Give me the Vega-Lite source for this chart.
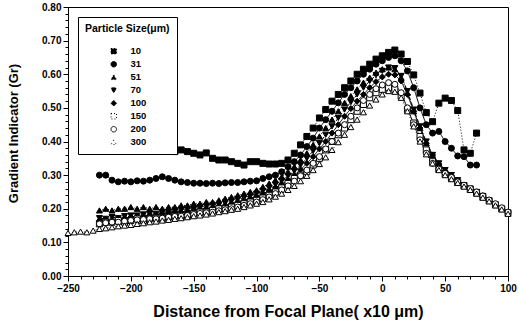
{
  "$schema": "https://vega.github.io/schema/vega-lite/v6.json",
  "width": 440,
  "height": 269,
  "autosize": {"type": "none"},
  "padding": {"left": 68, "top": 7, "right": 11, "bottom": 55},
  "background": "white",
  "data": {"values": [
{"s":"10","x":-165,"y":0.37},{"s":"10","x":-160,"y":0.375},{"s":"10","x":-155,"y":0.37},{"s":"10","x":-150,"y":0.365},{"s":"10","x":-145,"y":0.36},{"s":"10","x":-140,"y":0.366},{"s":"10","x":-135,"y":0.35},{"s":"10","x":-130,"y":0.345},{"s":"10","x":-125,"y":0.345},{"s":"10","x":-120,"y":0.34},{"s":"10","x":-115,"y":0.335},{"s":"10","x":-110,"y":0.33},{"s":"10","x":-105,"y":0.34},{"s":"10","x":-100,"y":0.34},{"s":"10","x":-95,"y":0.335},{"s":"10","x":-90,"y":0.333},{"s":"10","x":-85,"y":0.333},{"s":"10","x":-80,"y":0.335},{"s":"10","x":-75,"y":0.345},{"s":"10","x":-70,"y":0.365},{"s":"10","x":-65,"y":0.39},{"s":"10","x":-60,"y":0.415},{"s":"10","x":-55,"y":0.44},{"s":"10","x":-50,"y":0.47},{"s":"10","x":-45,"y":0.495},{"s":"10","x":-40,"y":0.52},{"s":"10","x":-35,"y":0.54},{"s":"10","x":-30,"y":0.56},{"s":"10","x":-25,"y":0.58},{"s":"10","x":-20,"y":0.6},{"s":"10","x":-15,"y":0.615},{"s":"10","x":-10,"y":0.63},{"s":"10","x":-5,"y":0.645},{"s":"10","x":0,"y":0.655},{"s":"10","x":5,"y":0.665},{"s":"10","x":10,"y":0.672},{"s":"10","x":15,"y":0.66},{"s":"10","x":20,"y":0.638},{"s":"10","x":25,"y":0.598},{"s":"10","x":30,"y":0.544},{"s":"10","x":35,"y":0.486},{"s":"10","x":40,"y":0.459},{"s":"10","x":45,"y":0.514},{"s":"10","x":50,"y":0.529},{"s":"10","x":55,"y":0.522},{"s":"10","x":60,"y":0.492},{"s":"10","x":65,"y":0.375},{"s":"10","x":70,"y":0.365},{"s":"10","x":75,"y":0.425},
{"s":"31","x":-225,"y":0.3},{"s":"31","x":-220,"y":0.3},{"s":"31","x":-215,"y":0.285},{"s":"31","x":-210,"y":0.28},{"s":"31","x":-205,"y":0.282},{"s":"31","x":-200,"y":0.28},{"s":"31","x":-195,"y":0.283},{"s":"31","x":-190,"y":0.282},{"s":"31","x":-185,"y":0.285},{"s":"31","x":-180,"y":0.29},{"s":"31","x":-175,"y":0.295},{"s":"31","x":-170,"y":0.29},{"s":"31","x":-165,"y":0.285},{"s":"31","x":-160,"y":0.28},{"s":"31","x":-155,"y":0.278},{"s":"31","x":-150,"y":0.276},{"s":"31","x":-145,"y":0.276},{"s":"31","x":-140,"y":0.275},{"s":"31","x":-135,"y":0.276},{"s":"31","x":-130,"y":0.275},{"s":"31","x":-125,"y":0.277},{"s":"31","x":-120,"y":0.278},{"s":"31","x":-115,"y":0.278},{"s":"31","x":-110,"y":0.28},{"s":"31","x":-105,"y":0.282},{"s":"31","x":-100,"y":0.283},{"s":"31","x":-95,"y":0.29},{"s":"31","x":-90,"y":0.295},{"s":"31","x":-85,"y":0.3},{"s":"31","x":-80,"y":0.31},{"s":"31","x":-75,"y":0.325},{"s":"31","x":-70,"y":0.34},{"s":"31","x":-65,"y":0.36},{"s":"31","x":-60,"y":0.385},{"s":"31","x":-55,"y":0.41},{"s":"31","x":-50,"y":0.44},{"s":"31","x":-45,"y":0.465},{"s":"31","x":-40,"y":0.49},{"s":"31","x":-35,"y":0.515},{"s":"31","x":-30,"y":0.54},{"s":"31","x":-25,"y":0.56},{"s":"31","x":-20,"y":0.58},{"s":"31","x":-15,"y":0.6},{"s":"31","x":-10,"y":0.615},{"s":"31","x":-5,"y":0.63},{"s":"31","x":0,"y":0.64},{"s":"31","x":5,"y":0.65},{"s":"31","x":10,"y":0.655},{"s":"31","x":15,"y":0.64},{"s":"31","x":20,"y":0.61},{"s":"31","x":25,"y":0.56},{"s":"31","x":30,"y":0.5},{"s":"31","x":35,"y":0.45},{"s":"31","x":40,"y":0.425},{"s":"31","x":45,"y":0.43},{"s":"31","x":50,"y":0.4},{"s":"31","x":55,"y":0.38},{"s":"31","x":60,"y":0.357},{"s":"31","x":65,"y":0.355},{"s":"31","x":70,"y":0.33},{"s":"31","x":75,"y":0.33},
{"s":"51","x":-225,"y":0.195},{"s":"51","x":-220,"y":0.2},{"s":"51","x":-215,"y":0.195},{"s":"51","x":-210,"y":0.2},{"s":"51","x":-205,"y":0.2},{"s":"51","x":-200,"y":0.205},{"s":"51","x":-195,"y":0.2},{"s":"51","x":-190,"y":0.205},{"s":"51","x":-185,"y":0.2},{"s":"51","x":-180,"y":0.205},{"s":"51","x":-175,"y":0.2},{"s":"51","x":-170,"y":0.205},{"s":"51","x":-165,"y":0.205},{"s":"51","x":-160,"y":0.21},{"s":"51","x":-155,"y":0.21},{"s":"51","x":-150,"y":0.215},{"s":"51","x":-145,"y":0.215},{"s":"51","x":-140,"y":0.22},{"s":"51","x":-135,"y":0.22},{"s":"51","x":-130,"y":0.225},{"s":"51","x":-125,"y":0.23},{"s":"51","x":-120,"y":0.235},{"s":"51","x":-115,"y":0.24},{"s":"51","x":-110,"y":0.245},{"s":"51","x":-105,"y":0.25},{"s":"51","x":-100,"y":0.255},{"s":"51","x":-95,"y":0.265},{"s":"51","x":-90,"y":0.275},{"s":"51","x":-85,"y":0.285},{"s":"51","x":-80,"y":0.295},{"s":"51","x":-75,"y":0.31},{"s":"51","x":-70,"y":0.325},{"s":"51","x":-65,"y":0.345},{"s":"51","x":-60,"y":0.365},{"s":"51","x":-55,"y":0.39},{"s":"51","x":-50,"y":0.415},{"s":"51","x":-45,"y":0.44},{"s":"51","x":-40,"y":0.465},{"s":"51","x":-35,"y":0.49},{"s":"51","x":-30,"y":0.515},{"s":"51","x":-25,"y":0.535},{"s":"51","x":-20,"y":0.555},{"s":"51","x":-15,"y":0.575},{"s":"51","x":-10,"y":0.59},{"s":"51","x":-5,"y":0.605},{"s":"51","x":0,"y":0.615},{"s":"51","x":5,"y":0.62},{"s":"51","x":10,"y":0.615},{"s":"51","x":15,"y":0.59},{"s":"51","x":20,"y":0.545},{"s":"51","x":25,"y":0.49},{"s":"51","x":30,"y":0.44},{"s":"51","x":35,"y":0.395},{"s":"51","x":40,"y":0.36},{"s":"51","x":45,"y":0.335},{"s":"51","x":50,"y":0.315},{"s":"51","x":55,"y":0.298},{"s":"51","x":60,"y":0.283},{"s":"51","x":65,"y":0.27},{"s":"51","x":70,"y":0.26},{"s":"51","x":75,"y":0.25},{"s":"51","x":80,"y":0.24},
{"s":"70","x":-225,"y":0.172},{"s":"70","x":-220,"y":0.17},{"s":"70","x":-215,"y":0.175},{"s":"70","x":-210,"y":0.172},{"s":"70","x":-205,"y":0.178},{"s":"70","x":-200,"y":0.18},{"s":"70","x":-195,"y":0.18},{"s":"70","x":-190,"y":0.183},{"s":"70","x":-185,"y":0.185},{"s":"70","x":-180,"y":0.185},{"s":"70","x":-175,"y":0.19},{"s":"70","x":-170,"y":0.19},{"s":"70","x":-165,"y":0.195},{"s":"70","x":-160,"y":0.197},{"s":"70","x":-155,"y":0.2},{"s":"70","x":-150,"y":0.2},{"s":"70","x":-145,"y":0.205},{"s":"70","x":-140,"y":0.207},{"s":"70","x":-135,"y":0.21},{"s":"70","x":-130,"y":0.212},{"s":"70","x":-125,"y":0.218},{"s":"70","x":-120,"y":0.222},{"s":"70","x":-115,"y":0.228},{"s":"70","x":-110,"y":0.233},{"s":"70","x":-105,"y":0.238},{"s":"70","x":-100,"y":0.245},{"s":"70","x":-95,"y":0.253},{"s":"70","x":-90,"y":0.262},{"s":"70","x":-85,"y":0.272},{"s":"70","x":-80,"y":0.283},{"s":"70","x":-75,"y":0.297},{"s":"70","x":-70,"y":0.312},{"s":"70","x":-65,"y":0.33},{"s":"70","x":-60,"y":0.35},{"s":"70","x":-55,"y":0.372},{"s":"70","x":-50,"y":0.395},{"s":"70","x":-45,"y":0.42},{"s":"70","x":-40,"y":0.445},{"s":"70","x":-35,"y":0.47},{"s":"70","x":-30,"y":0.495},{"s":"70","x":-25,"y":0.517},{"s":"70","x":-20,"y":0.54},{"s":"70","x":-15,"y":0.56},{"s":"70","x":-10,"y":0.58},{"s":"70","x":-5,"y":0.597},{"s":"70","x":0,"y":0.61},{"s":"70","x":5,"y":0.62},{"s":"70","x":10,"y":0.618},{"s":"70","x":15,"y":0.595},{"s":"70","x":20,"y":0.55},{"s":"70","x":25,"y":0.495},{"s":"70","x":30,"y":0.445},{"s":"70","x":35,"y":0.4},{"s":"70","x":40,"y":0.36},{"s":"70","x":45,"y":0.335},{"s":"70","x":50,"y":0.315},{"s":"70","x":55,"y":0.3},{"s":"70","x":60,"y":0.285},{"s":"70","x":65,"y":0.27},{"s":"70","x":70,"y":0.26},{"s":"70","x":75,"y":0.25},{"s":"70","x":80,"y":0.238},
{"s":"100","x":-225,"y":0.165},{"s":"100","x":-220,"y":0.168},{"s":"100","x":-215,"y":0.165},{"s":"100","x":-210,"y":0.17},{"s":"100","x":-205,"y":0.172},{"s":"100","x":-200,"y":0.175},{"s":"100","x":-195,"y":0.177},{"s":"100","x":-190,"y":0.178},{"s":"100","x":-185,"y":0.18},{"s":"100","x":-180,"y":0.182},{"s":"100","x":-175,"y":0.185},{"s":"100","x":-170,"y":0.187},{"s":"100","x":-165,"y":0.19},{"s":"100","x":-160,"y":0.19},{"s":"100","x":-155,"y":0.193},{"s":"100","x":-150,"y":0.195},{"s":"100","x":-145,"y":0.198},{"s":"100","x":-140,"y":0.2},{"s":"100","x":-135,"y":0.203},{"s":"100","x":-130,"y":0.207},{"s":"100","x":-125,"y":0.21},{"s":"100","x":-120,"y":0.215},{"s":"100","x":-115,"y":0.22},{"s":"100","x":-110,"y":0.225},{"s":"100","x":-105,"y":0.23},{"s":"100","x":-100,"y":0.237},{"s":"100","x":-95,"y":0.245},{"s":"100","x":-90,"y":0.253},{"s":"100","x":-85,"y":0.263},{"s":"100","x":-80,"y":0.273},{"s":"100","x":-75,"y":0.285},{"s":"100","x":-70,"y":0.3},{"s":"100","x":-65,"y":0.316},{"s":"100","x":-60,"y":0.335},{"s":"100","x":-55,"y":0.355},{"s":"100","x":-50,"y":0.378},{"s":"100","x":-45,"y":0.4},{"s":"100","x":-40,"y":0.425},{"s":"100","x":-35,"y":0.45},{"s":"100","x":-30,"y":0.475},{"s":"100","x":-25,"y":0.498},{"s":"100","x":-20,"y":0.52},{"s":"100","x":-15,"y":0.54},{"s":"100","x":-10,"y":0.56},{"s":"100","x":-5,"y":0.578},{"s":"100","x":0,"y":0.592},{"s":"100","x":5,"y":0.6},{"s":"100","x":10,"y":0.598},{"s":"100","x":15,"y":0.58},{"s":"100","x":20,"y":0.54},{"s":"100","x":25,"y":0.49},{"s":"100","x":30,"y":0.44},{"s":"100","x":35,"y":0.395},{"s":"100","x":40,"y":0.36},{"s":"100","x":45,"y":0.333},{"s":"100","x":50,"y":0.312},{"s":"100","x":55,"y":0.297},{"s":"100","x":60,"y":0.283},{"s":"100","x":65,"y":0.27},{"s":"100","x":70,"y":0.258},{"s":"100","x":75,"y":0.247},{"s":"100","x":80,"y":0.237},
{"s":"150","x":-225,"y":0.155},{"s":"150","x":-220,"y":0.16},{"s":"150","x":-215,"y":0.16},{"s":"150","x":-210,"y":0.165},{"s":"150","x":-205,"y":0.16},{"s":"150","x":-200,"y":0.165},{"s":"150","x":-195,"y":0.17},{"s":"150","x":-190,"y":0.165},{"s":"150","x":-185,"y":0.17},{"s":"150","x":-180,"y":0.172},{"s":"150","x":-175,"y":0.17},{"s":"150","x":-170,"y":0.175},{"s":"150","x":-165,"y":0.178},{"s":"150","x":-160,"y":0.18},{"s":"150","x":-155,"y":0.18},{"s":"150","x":-150,"y":0.185},{"s":"150","x":-145,"y":0.19},{"s":"150","x":-140,"y":0.19},{"s":"150","x":-135,"y":0.195},{"s":"150","x":-130,"y":0.2},{"s":"150","x":-125,"y":0.2},{"s":"150","x":-120,"y":0.205},{"s":"150","x":-115,"y":0.21},{"s":"150","x":-110,"y":0.215},{"s":"150","x":-105,"y":0.22},{"s":"150","x":-100,"y":0.225},{"s":"150","x":-95,"y":0.232},{"s":"150","x":-90,"y":0.24},{"s":"150","x":-85,"y":0.25},{"s":"150","x":-80,"y":0.262},{"s":"150","x":-75,"y":0.275},{"s":"150","x":-70,"y":0.29},{"s":"150","x":-65,"y":0.3},{"s":"150","x":-60,"y":0.31},{"s":"150","x":-55,"y":0.33},{"s":"150","x":-50,"y":0.35},{"s":"150","x":-45,"y":0.375},{"s":"150","x":-40,"y":0.4},{"s":"150","x":-35,"y":0.42},{"s":"150","x":-30,"y":0.44},{"s":"150","x":-25,"y":0.465},{"s":"150","x":-20,"y":0.49},{"s":"150","x":-15,"y":0.51},{"s":"150","x":-10,"y":0.53},{"s":"150","x":-5,"y":0.545},{"s":"150","x":0,"y":0.555},{"s":"150","x":5,"y":0.56},{"s":"150","x":10,"y":0.555},{"s":"150","x":15,"y":0.535},{"s":"150","x":20,"y":0.495},{"s":"150","x":25,"y":0.455},{"s":"150","x":30,"y":0.415},{"s":"150","x":35,"y":0.375},{"s":"150","x":40,"y":0.34},{"s":"150","x":45,"y":0.318},{"s":"150","x":50,"y":0.303},{"s":"150","x":55,"y":0.29},{"s":"150","x":60,"y":0.278},{"s":"150","x":65,"y":0.268},{"s":"150","x":70,"y":0.258},{"s":"150","x":75,"y":0.247},{"s":"150","x":80,"y":0.235},{"s":"150","x":85,"y":0.224},{"s":"150","x":90,"y":0.212},{"s":"150","x":95,"y":0.2},{"s":"150","x":100,"y":0.188},
{"s":"200","x":-225,"y":0.155},{"s":"200","x":-220,"y":0.158},{"s":"200","x":-215,"y":0.16},{"s":"200","x":-210,"y":0.16},{"s":"200","x":-205,"y":0.163},{"s":"200","x":-200,"y":0.165},{"s":"200","x":-195,"y":0.167},{"s":"200","x":-190,"y":0.168},{"s":"200","x":-185,"y":0.17},{"s":"200","x":-180,"y":0.17},{"s":"200","x":-175,"y":0.172},{"s":"200","x":-170,"y":0.175},{"s":"200","x":-165,"y":0.177},{"s":"200","x":-160,"y":0.178},{"s":"200","x":-155,"y":0.18},{"s":"200","x":-150,"y":0.183},{"s":"200","x":-145,"y":0.186},{"s":"200","x":-140,"y":0.188},{"s":"200","x":-135,"y":0.19},{"s":"200","x":-130,"y":0.194},{"s":"200","x":-125,"y":0.197},{"s":"200","x":-120,"y":0.2},{"s":"200","x":-115,"y":0.205},{"s":"200","x":-110,"y":0.21},{"s":"200","x":-105,"y":0.215},{"s":"200","x":-100,"y":0.22},{"s":"200","x":-95,"y":0.227},{"s":"200","x":-90,"y":0.235},{"s":"200","x":-85,"y":0.245},{"s":"200","x":-80,"y":0.256},{"s":"200","x":-75,"y":0.268},{"s":"200","x":-70,"y":0.282},{"s":"200","x":-65,"y":0.298},{"s":"200","x":-60,"y":0.315},{"s":"200","x":-55,"y":0.335},{"s":"200","x":-50,"y":0.355},{"s":"200","x":-45,"y":0.378},{"s":"200","x":-40,"y":0.4},{"s":"200","x":-35,"y":0.425},{"s":"200","x":-30,"y":0.45},{"s":"200","x":-25,"y":0.475},{"s":"200","x":-20,"y":0.5},{"s":"200","x":-15,"y":0.522},{"s":"200","x":-10,"y":0.54},{"s":"200","x":-5,"y":0.557},{"s":"200","x":0,"y":0.568},{"s":"200","x":5,"y":0.575},{"s":"200","x":10,"y":0.57},{"s":"200","x":15,"y":0.545},{"s":"200","x":20,"y":0.5},{"s":"200","x":25,"y":0.45},{"s":"200","x":30,"y":0.405},{"s":"200","x":35,"y":0.365},{"s":"200","x":40,"y":0.335},{"s":"200","x":45,"y":0.318},{"s":"200","x":50,"y":0.305},{"s":"200","x":55,"y":0.293},{"s":"200","x":60,"y":0.28},{"s":"200","x":65,"y":0.27},{"s":"200","x":70,"y":0.26},{"s":"200","x":75,"y":0.25},{"s":"200","x":80,"y":0.238},{"s":"200","x":85,"y":0.226},{"s":"200","x":90,"y":0.215},{"s":"200","x":95,"y":0.203},{"s":"200","x":100,"y":0.19},
{"s":"300","x":-250,"y":0.128},{"s":"300","x":-245,"y":0.13},{"s":"300","x":-240,"y":0.132},{"s":"300","x":-235,"y":0.13},{"s":"300","x":-230,"y":0.135},{"s":"300","x":-225,"y":0.14},{"s":"300","x":-220,"y":0.142},{"s":"300","x":-215,"y":0.145},{"s":"300","x":-210,"y":0.148},{"s":"300","x":-205,"y":0.15},{"s":"300","x":-200,"y":0.152},{"s":"300","x":-195,"y":0.155},{"s":"300","x":-190,"y":0.157},{"s":"300","x":-185,"y":0.16},{"s":"300","x":-180,"y":0.162},{"s":"300","x":-175,"y":0.165},{"s":"300","x":-170,"y":0.167},{"s":"300","x":-165,"y":0.17},{"s":"300","x":-160,"y":0.172},{"s":"300","x":-155,"y":0.175},{"s":"300","x":-150,"y":0.178},{"s":"300","x":-145,"y":0.18},{"s":"300","x":-140,"y":0.183},{"s":"300","x":-135,"y":0.186},{"s":"300","x":-130,"y":0.19},{"s":"300","x":-125,"y":0.193},{"s":"300","x":-120,"y":0.197},{"s":"300","x":-115,"y":0.2},{"s":"300","x":-110,"y":0.205},{"s":"300","x":-105,"y":0.21},{"s":"300","x":-100,"y":0.215},{"s":"300","x":-95,"y":0.22},{"s":"300","x":-90,"y":0.228},{"s":"300","x":-85,"y":0.236},{"s":"300","x":-80,"y":0.245},{"s":"300","x":-75,"y":0.256},{"s":"300","x":-70,"y":0.268},{"s":"300","x":-65,"y":0.282},{"s":"300","x":-60,"y":0.298},{"s":"300","x":-55,"y":0.315},{"s":"300","x":-50,"y":0.333},{"s":"300","x":-45,"y":0.353},{"s":"300","x":-40,"y":0.375},{"s":"300","x":-35,"y":0.398},{"s":"300","x":-30,"y":0.42},{"s":"300","x":-25,"y":0.443},{"s":"300","x":-20,"y":0.465},{"s":"300","x":-15,"y":0.487},{"s":"300","x":-10,"y":0.507},{"s":"300","x":-5,"y":0.525},{"s":"300","x":0,"y":0.54},{"s":"300","x":5,"y":0.55},{"s":"300","x":10,"y":0.548},{"s":"300","x":15,"y":0.53},{"s":"300","x":20,"y":0.49},{"s":"300","x":25,"y":0.445},{"s":"300","x":30,"y":0.4},{"s":"300","x":35,"y":0.362},{"s":"300","x":40,"y":0.335},{"s":"300","x":45,"y":0.315},{"s":"300","x":50,"y":0.3},{"s":"300","x":55,"y":0.288},{"s":"300","x":60,"y":0.277},{"s":"300","x":65,"y":0.266},{"s":"300","x":70,"y":0.256},{"s":"300","x":75,"y":0.245},{"s":"300","x":80,"y":0.233},{"s":"300","x":85,"y":0.222},{"s":"300","x":90,"y":0.21},{"s":"300","x":95,"y":0.198},{"s":"300","x":100,"y":0.185}
  ]},
  "encoding": {
    "x": {"field": "x", "type": "quantitative",
      "scale": {"domain": [-250, 100], "nice": false, "zero": false},
      "axis": {"title": "Distance from Focal Plane( x10 μm)", "titleFontSize": 16, "titlePadding": 10, "labelFontSize": 10,
        "values": [-250,-240,-230,-220,-210,-200,-190,-180,-170,-160,-150,-140,-130,-120,-110,-100,-90,-80,-70,-60,-50,-40,-30,-20,-10,0,10,20,30,40,50,60,70,80,90,100],
        "labelExpr": "datum.value % 50 == 0 ? datum.label : ''",
        "tickSize": {"condition": {"test": "datum.value % 50 == 0", "value": 5}, "value": 3}}},
    "y": {"field": "y", "type": "quantitative",
      "scale": {"domain": [0, 0.8], "nice": false},
      "axis": {"title": "Gradient Indicator (Gr)", "titleFontSize": 13, "titlePadding": 21, "titleY": 126, "labelFontSize": 10,
        "values": [0,0.02,0.04,0.06,0.08,0.1,0.12,0.14,0.16,0.18,0.2,0.22,0.24,0.26,0.28,0.3,0.32,0.34,0.36,0.38,0.4,0.42,0.44,0.46,0.48,0.5,0.52,0.54,0.56,0.58,0.6,0.62,0.64,0.66,0.68,0.7,0.72,0.74,0.76,0.78,0.8],
        "labelExpr": "abs(datum.value*10 - round(datum.value*10)) < 0.001 ? format(datum.value, '.2f') : ''",
        "tickSize": {"condition": {"test": "abs(datum.value*10 - round(datum.value*10)) < 0.001", "value": 5}, "value": 3}}}
  },
  "layer": [
    {
      "mark": {"type": "line", "color": "black", "strokeWidth": 1},
      "encoding": {
        "strokeDash": {"field": "s", "type": "nominal", "title": "Particle Size(μm)",
          "scale": {"domain": ["10","31","51","70","100","150","200","300"],
                    "range": [[1,2],[1,0],[1,2],[4,2],[1,0],[1,2],[1,0],[1,3]]}}
      }
    },
    {
      "mark": {"type": "point", "filled": false, "strokeWidth": 1, "size": 36, "opacity": 1},
      "encoding": {
        "shape": {"field": "s", "type": "nominal", "title": "Particle Size(μm)",
          "scale": {"domain": ["10","31","51","70","100","150","200","300"],
                    "range": ["square","circle","triangle-up","triangle-down","diamond","square","circle","triangle-up"]}},
        "fill": {"field": "s", "type": "nominal", "title": "Particle Size(μm)",
          "scale": {"domain": ["10","31","51","70","100","150","200","300"],
                    "range": ["black","black","black","black","black","white","white","white"]}},
        "stroke": {"field": "s", "type": "nominal", "title": "Particle Size(μm)",
          "scale": {"domain": ["10","31","51","70","100","150","200","300"],
                    "range": ["black","black","black","black","black","black","black","black"]}}
      }
    }
  ],
  "config": {
    "font": "Liberation Sans",
    "view": {"stroke": "black", "strokeWidth": 1},
    "axis": {"domainColor": "black", "tickColor": "black", "labelColor": "black", "titleColor": "black", "labelFont": "Liberation Sans", "titleFont": "Liberation Sans", "labelFontWeight": "bold", "titleFontWeight": "bold", "grid": false, "labelOverlap": false, "labelFlush": false},
    "legend": {
      "orient": "none", "legendX": 10, "legendY": 10,
      "fillColor": "white", "strokeColor": "black", "padding": 7,
      "titleFont": "Liberation Sans", "titleFontWeight": "bold", "titleFontSize": 10.5, "titleColor": "black", "titlePadding": 12,
      "labelFont": "Liberation Sans", "labelFontWeight": "bold", "labelFontSize": 9.5, "labelColor": "black", "labelOffset": 12,
      "symbolSize": 30, "symbolStrokeColor": "black", "symbolStrokeWidth": 1, "symbolOffset": 24, "rowPadding": 2
    }
  }
}
